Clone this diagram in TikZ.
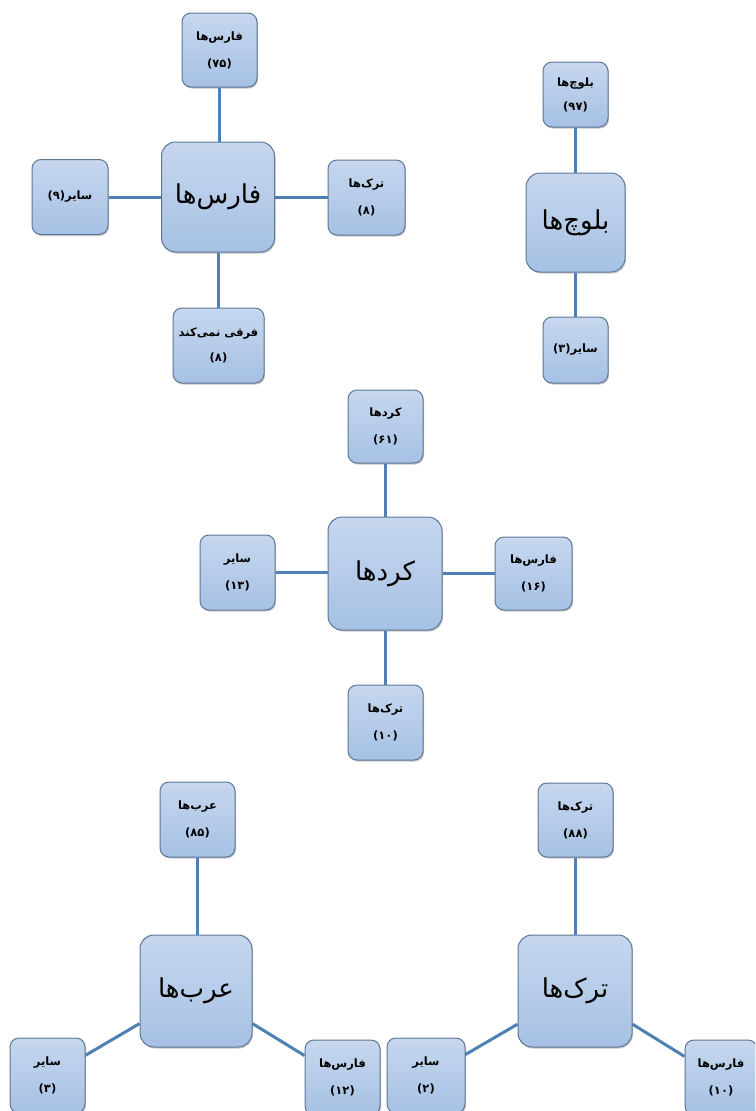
\documentclass[tikz,border=0pt]{standalone}
\usepackage{fontspec}
\newfontfamily\arabicfont[Script=Arabic]{DejaVu Sans}
\TeXXeTstate=1
\usetikzlibrary{shadows}
\definecolor{boxtop}{HTML}{C6D7EE}
\definecolor{boxbot}{HTML}{A6C1E4}
\definecolor{boxline}{HTML}{5E7796}
\definecolor{connline}{HTML}{4F80B3}
\newcommand{\fa}[1]{\hbox{\beginR #1\endR}}
\tikzset{
  box/.style={rounded corners=9pt, draw=boxline, line width=1pt,
    top color=boxtop, bottom color=boxbot, inner sep=0pt, align=center,
    drop shadow={shadow xshift=1pt, shadow yshift=-1.5pt, opacity=0.35, fill=black!60},
    font=\arabicfont\bfseries\fontsize{11.5}{20}\selectfont},
  bigbox/.style={box, rounded corners=14pt, font=\arabicfont\fontsize{26}{30}\selectfont},
  sz/.style 2 args={minimum width=#1pt, minimum height=#2pt},
  conn/.style={draw=connline, line width=3pt}
}
\begin{document}
\begin{tikzpicture}[x=1pt,y=-1pt]
\path[use as bounding box] (0,0) rectangle (755,1111);
\clip (0,0) rectangle (755,1111);
\fill[white] (0,0) rectangle (755,1111);
% ---------- group 1: Fars ----------
\node[bigbox, sz={113}{110}] (f1c) at (218,197) {\fa{فارس‌ها}};
\node[box, sz={75}{74}] (f1t) at (219.5,50) {\fa{فارس‌ها}\\[7pt](۷۵)};
\node[box, sz={76}{75}] (f1l) at (70,197) {\hbox{(۹)}\fa{سایر}};
\node[box, sz={77}{75}] (f1r) at (366.5,197.5) {\fa{ترک‌ها}\\[7pt](۸)};
\node[box, sz={91}{75}] (f1b) at (218.5,345.5) {\fa{فرقی نمی‌کند}\\[5pt](۸)};
\draw[conn] (f1t.south) -- (f1t.south |- f1c.north);
\draw[conn] (f1b.north) -- (f1b.north |- f1c.south);
\draw[conn] (f1l.east) -- (f1l.east -| f1c.west);
\draw[conn] (f1r.west) -- (f1r.west -| f1c.east);
% ---------- group 2: Baluch ----------
\node[bigbox, sz={99}{99}] (b2c) at (575.5,222.5) {\fa{بلوچ‌ها}};
\node[box, sz={65}{65}] (b2t) at (575.5,94.5) {\fa{بلوچ‌ها}\\[4pt](۹۷)};
\node[box, sz={65}{66}] (b2b) at (575.5,350) {\hbox{(۳)}\fa{سایر}};
\draw[conn] (b2t.south) -- (b2t.south |- b2c.north);
\draw[conn] (b2b.north) -- (b2b.north |- b2c.south);
% ---------- group 3: Kurd ----------
\node[bigbox, sz={114}{113}] (k3c) at (385,573.5) {\fa{کردها}};
\node[box, sz={75}{73}] (k3t) at (385.5,426.5) {\fa{کردها}\\[7pt](۶۱)};
\node[box, sz={75}{75}] (k3l) at (237.5,572.5) {\fa{سایر}\\[7pt](۱۳)};
\node[box, sz={77}{73}] (k3r) at (533.5,573.5) {\fa{فارس‌ها}\\[7pt](۱۶)};
\node[box, sz={75}{75}] (k3b) at (385.5,722.5) {\fa{ترک‌ها}\\[7pt](۱۰)};
\draw[conn] (k3t.south) -- (k3t.south |- k3c.north);
\draw[conn] (k3b.north) -- (k3b.north |- k3c.south);
\draw[conn] (k3l.east) -- (k3l.east -| k3c.west);
\draw[conn] (k3r.west) -- (k3r.west -| k3c.east);
% ---------- group 4: Arab ----------
\node[bigbox, sz={112}{112}] (a4c) at (196,991) {\fa{عرب‌ها}};
\node[box, sz={75}{75}] (a4t) at (197.5,819.5) {\fa{عرب‌ها}\\[7pt](۸۵)};
\node[box, sz={75}{75}] (a4l) at (47.5,1075.5) {\fa{سایر}\\[7pt](۳)};
\node[box, sz={75}{75}] (a4r) at (342.5,1077.5) {\fa{فارس‌ها}\\[7pt](۱۲)};
\draw[conn] (a4t.south) -- (a4t.south |- a4c.north);
\draw[conn] (a4c.210) -- (a4l.28);
\draw[conn] (a4c.330) -- (a4r.150);
% ---------- group 5: Turk ----------
\node[bigbox, sz={114}{112}] (t5c) at (575,991) {\fa{ترک‌ها}};
\node[box, sz={75}{74}] (t5t) at (575.5,820) {\fa{ترک‌ها}\\[7pt](۸۸)};
\node[box, sz={78}{75}] (t5l) at (426,1075.5) {\fa{سایر}\\[7pt](۲)};
\node[box, sz={72}{75}] (t5r) at (721,1077.5) {\fa{فارس‌ها}\\[7pt](۱۰)};
\draw[conn] (t5t.south) -- (t5t.south |- t5c.north);
\draw[conn] (t5c.210) -- (t5l.28);
\draw[conn] (t5c.330) -- (t5r.150);
\end{tikzpicture}
\end{document}
